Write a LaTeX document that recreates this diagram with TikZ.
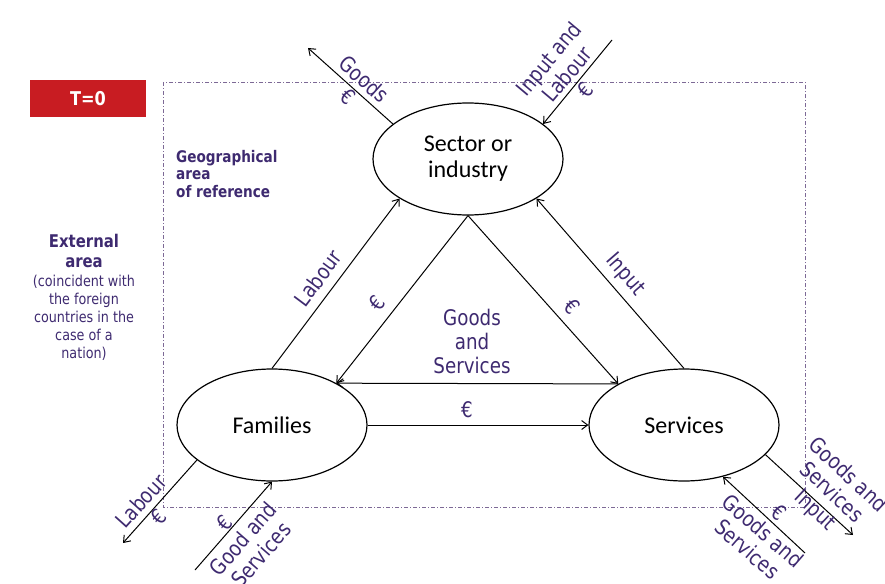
\documentclass[tikz,border=0pt]{standalone}
\usepackage{fontspec}
\setmainfont{Carlito}
\newfontfamily\labfont[FakeStretch=0.85]{DejaVu Sans}
\usetikzlibrary{arrows.meta,shapes.geometric}

\definecolor{labcol}{RGB}{62,42,112}
\definecolor{areacol}{RGB}{125,105,150}
\definecolor{tred}{RGB}{200,28,34}

\tikzset{
  sect/.style={ellipse, draw, line width=1.2pt, minimum width=190pt, minimum height=112pt,
    inner sep=0pt, align=center, font=\fontsize{24}{26}\selectfont},
  flow/.style={-{Straight Barb[length=6pt,width=9pt]}, line width=1pt},
  lab/.style={text=labcol, align=center, inner sep=0pt, font=\labfont\fontsize{21.5}{24}\selectfont},
}

\begin{document}
\begin{tikzpicture}[x=1pt,y=-1pt]
  \useasboundingbox (0,0) rectangle (885,583);

  % Setup
  \def\ytop{159}
  \def\ybot{425}

  % Geographical area
  \draw[areacol, line width=0.8pt, dash pattern=on 4pt off 2pt on 1pt off 2pt]
    (163,82) rectangle (805,507);
  \node[fill=tred, minimum width=116pt, minimum height=37pt, inner sep=0pt, text=white,
    font=\labfont\bfseries\fontsize{19}{20}\selectfont] (tzero) at (88,98.5) {T=0};
  \node[lab, align=left, anchor=north west, font=\labfont\bfseries\fontsize{16}{17.5}\selectfont]
    (geo) at (176,150) {Geographical\\area\\of reference};

  % External area
  \node[lab, anchor=north, font=\labfont\bfseries\fontsize{17.5}{20}\selectfont]
    (ext) at (84,234) {External\\area};
  \node[lab, anchor=north, font=\labfont\fontsize{15}{18.2}\selectfont]
    (extnote) at (84,274.5) {(coincident with\\the foreign\\countries in the\\case of a\\nation)};

  % Sectors
  \node[sect] (sec) at (468,\ytop) {Sector or\\industry};
  \node[sect] (fam) at (272,\ybot) {Families};
  \node[sect] (serv) at (684,\ybot) {Services};

  % Internal flows
  \draw[flow] (fam.north) -- (sec.210);
  \draw[flow] (sec.south) -- (fam.33);
  \draw[flow] (sec.south) -- (serv.148);
  \draw[flow] (serv.north) -- (sec.330);
  \draw[flow] (serv.148) -- (fam.33);
  \draw[flow] (fam.east) -- (serv.west);

  \node[lab, rotate=53] (labourlab) at (318,278) {Labour};
  \node[lab, rotate=52] (eurol) at (377,303) {€};
  \node[lab, rotate=-48] (euror) at (572,307) {€};
  \node[lab, rotate=-49] (inputlab) at (625,275) {Input};
  \node[lab] (gslab) at (472,341) {Goods\\and\\Services};
  \node[lab] (eurob) at (467,410) {€};

  % External flows
  \coordinate (goodsout) at (308,48);
  \coordinate (inlabin) at (612,40);
  \coordinate (labout) at (123,543);
  \coordinate (gsin) at (195,570);
  \coordinate (servout) at (853,535);
  \coordinate (servin) at (805,553);

  \draw[flow] (sec.155) -- (goodsout);
  \draw[flow] (inlabin) -- (sec.25);
  \draw[flow] (fam.205) -- (labout);
  \draw[flow] (gsin) -- (fam.south);
  \draw[flow] (serv.340) -- (servout);
  \draw[flow] (servin) -- (serv.307);

  \node[lab, rotate=-42] (goodslab) at (356,88) {Goods\\€};
  \node[lab, rotate=50] (inlablab) at (567,74) {Input and\\Labour\\€};
  \node[lab, rotate=48] (laboutlab) at (150,509) {Labour\\€};
  \node[lab, rotate=49] (gsinlab) at (243,539) {€\\Good and\\Services};
  \node[lab, rotate=-43] (servoutlab) at (831,493) {Goods and\\Services\\Input};
  \node[lab, rotate=-41] (servinlab) at (763,531) {€\\Goods and\\Services};

\end{tikzpicture}
\end{document}
